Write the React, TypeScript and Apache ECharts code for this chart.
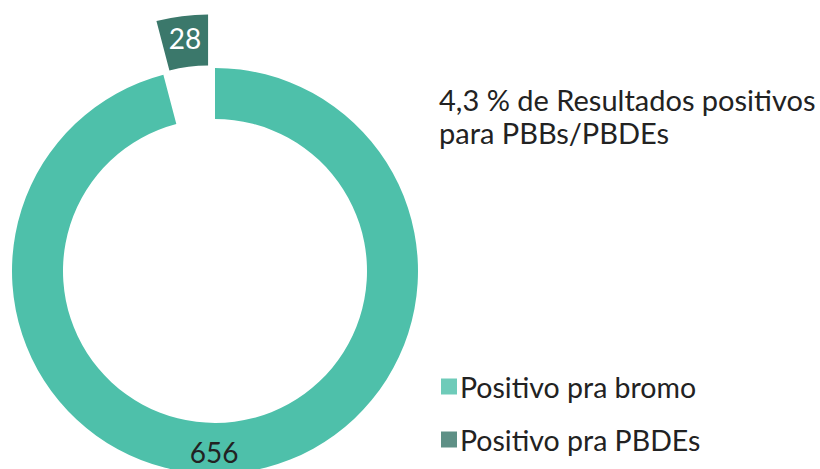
import React, { useEffect, useRef } from "react";
import * as echarts from "echarts";

const categories = ["Positivo pra bromo", "Positivo pra PBDEs"];
const values = [656, 28];
const sliceColors = ["#4ec0aa", "#3b786b"];
const titleText = "4,3 % de Resultados positivos\npara PBBs/PBDEs";

const FONT = "Lato, 'Open Sans', sans-serif";

export default function App() {
  const ref = useRef<HTMLDivElement>(null);
  useEffect(() => {
    if (!ref.current) return;
    const chart = echarts.init(ref.current, null, { renderer: "svg" });
    chart.setOption({
      animation: false,
      backgroundColor: "#ffffff",
      title: {
        text: titleText,
        left: 434,
        top: 78,
        textStyle: {
          fontFamily: FONT,
          fontSize: 29,
          fontWeight: "normal",
          color: "#222222",
          lineHeight: 33,
        },
      },
      legend: {
        orient: "vertical",
        left: 436,
        top: 367,
        itemWidth: 16,
        itemHeight: 16,
        itemGap: 24,
        icon: "rect",
        selectedMode: false,
        itemStyle: { opacity: 0.82 },
        textStyle: { fontFamily: FONT, fontSize: 28.5, color: "#222222", padding: [0, 0, 0, -2] },
        data: categories,
      },
      series: [
        {
          type: "pie",
          center: [215, 271],
          radius: [152, 203],
          startAngle: 90,
          clockwise: true,
          selectedMode: "single",
          selectedOffset: 54,
          silent: true,
          label: {
            show: true,
            position: "inside",
            fontFamily: FONT,
            fontSize: 28,
            formatter: "{c}",
          },
          labelLine: { show: false },
          data: values.map((v, i) => ({
            name: categories[i],
            value: v,
            selected: i === 1,
            itemStyle: { color: sliceColors[i] },
            label:
              i === 0
                ? { color: "#222222", offset: [-24, 2] }
                : { color: "#ffffff" },
          })),
        },
      ],
    });
    return () => chart.dispose();
  }, []);
  return (
    <div
      ref={ref}
      style={{ position: "fixed", left: 0, top: 0, width: 820, height: 469 }}
    />
  );
}
